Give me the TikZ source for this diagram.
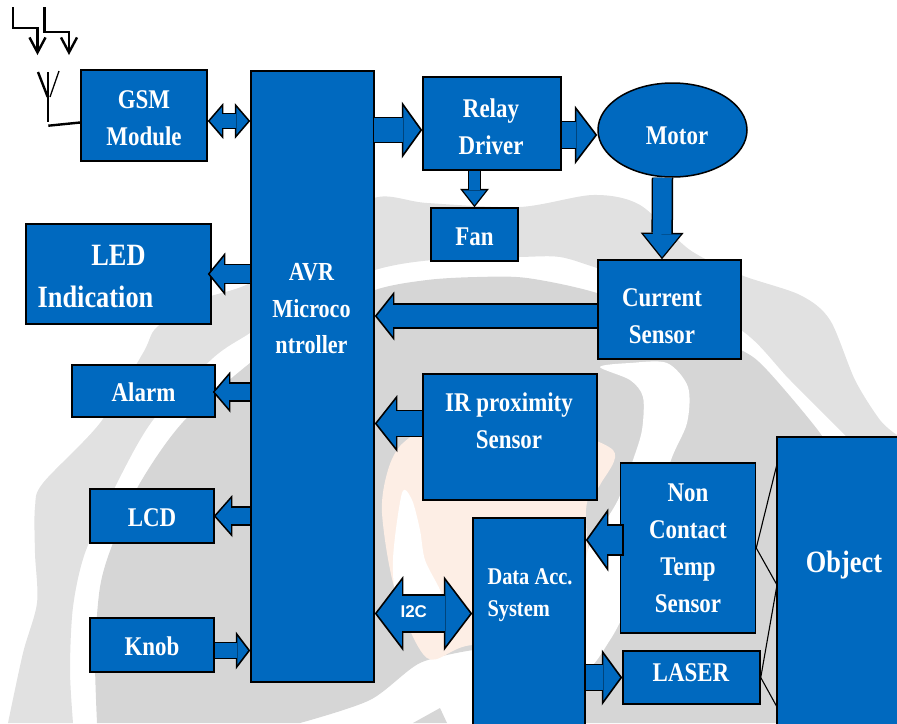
\documentclass[tikz,border=0pt]{standalone}
\usepackage{fontspec}
\setmainfont{Liberation Serif}[FakeStretch=0.85]
\newfontfamily\busfont{Liberation Sans}
\usetikzlibrary{positioning, arrows.meta, shapes.geometric}
\definecolor{boxblue}{HTML}{0069BF}
\definecolor{ringlight}{HTML}{E1E1E1}
\definecolor{ringdark}{HTML}{D6D6D6}
\definecolor{globepeach}{HTML}{FDEEE5}

\begin{document}
\begin{tikzpicture}[
  x=1pt,
  y=-1pt,
% 1. Filled blocks
  bluebox/.style={
    draw=black,
    fill=boxblue,
    line width=1.5pt,
    inner sep=0pt,
    text=white,
    align=center,
    font=\bfseries\fontsize{27}{37}\selectfont
  },
  boxtext/.style={
    text=white,
    inner sep=0pt,
    align=center,
    font=\bfseries\fontsize{27}{37}\selectfont
  },
  oneline/.style={text height=21.5pt, text depth=0pt},
% 2. Block arrows: shaft width, head width, head length (numbers, in pt)
  blocksizes/.style n args={3}{
    /utils/exec={
      \pgfmathsetmacro\outerw{#2+3}
      \pgfmathsetmacro\outerl{#3+2.5}
      \pgfmathsetmacro\innerw{(#2+3)*(#3-1.2)/(#3+2.5)}
      \pgfmathsetmacro\innerl{#3-1.2}
      \pgfmathsetmacro\outershaft{#1+1.5}
      \pgfmathsetmacro\innershaft{#1-1.5}
    }
  },
  blockarrow/.style n args={3}{
    blocksizes={#1}{#2}{#3},
    preaction={
      draw=black,
      shorten >=0pt,
      shorten <=0pt,
      line width=\outershaft pt,
      -{Triangle[width=\outerw pt, length=\outerl pt, line width=0pt]}
    },
    draw=boxblue,
    line width=\innershaft pt,
    shorten >=2.2pt,
    -{Triangle[width=\innerw pt, length=\innerl pt, line width=0pt]}
  },
  blockboth/.style n args={3}{
    blocksizes={#1}{#2}{#3},
    preaction={
      draw=black,
      shorten >=0pt,
      shorten <=0pt,
      line width=\outershaft pt,
      {Triangle[width=\outerw pt, length=\outerl pt, line width=0pt]}-{Triangle[width=\outerw pt, length=\outerl pt, line width=0pt]}
    },
    draw=boxblue,
    line width=\innershaft pt,
    shorten >=2.2pt,
    shorten <=2.2pt,
    {Triangle[width=\innerw pt, length=\innerl pt, line width=0pt]}-{Triangle[width=\innerw pt, length=\innerl pt, line width=0pt]}
  },
% 3. Tail that stands on top of a block keeps its black end
  closedtail/.style={shorten <=1.5pt},
  signal/.style={
    draw=black,
    line width=2.4pt,
    -{Straight Barb[length=15pt, width=16pt, line width=2.4pt]}
  },
  wire/.style={draw=black, line width=2.4pt},
  beam/.style={draw=black, line width=1.1pt}
]

  \useasboundingbox (0,0) rectangle (897,723);
  \clip (0,0) rectangle (897,723);

  % Watermark behind the blocks
  \fill[ringlight] plot[smooth] coordinates {(8,723) (23,653) (37,603) (35,553) (35,507) (43,483) (100,423) (143,353) (157,327) (200,300) (250,283) (310,240) (374,198) (427,203) (520,207) (593,195) (640,205) (690,250) (741,275) (800,295) (830,320) (855,380) (880,420) (897,435)}
    -- (897,470) -- plot[smooth] coordinates {(850,440) (790,380) (741,330) (650,285) (597,268) (560,257) (520,257) (433,260) (375,270) (300,300) (250,333) (213,358) (153,420) (115,487) (85,553) (73,607) (70,670) (73,723)} -- cycle;
  \fill[ringdark] plot[smooth] coordinates {(97,723) (95,653) (100,587) (113,543) (140,483) (183,422) (250,363) (310,320) (375,290) (427,280) (477,277) (527,278) (597,293) (680,325) (741,350) (767,370) (820,433) (840,470)}
    -- (897,470) -- (897,723) -- (586,723) -- (586,650) -- plot[smooth] coordinates {(473,650) (420,663) (370,700) (300,723)} -- cycle;
  \fill[ringdark] (413,723) -- (440,708) -- (447,723) -- cycle;
  \fill[globepeach] plot[smooth cycle] coordinates {(382,513) (388,470) (403,443) (440,425) (540,425) (613,450) (600,485) (586,510) (586,650) (473,645) (427,658) (395,590)};
  \fill[white] plot[smooth cycle] coordinates {(402,493) (412,500) (420,530) (425,560) (440,590) (445,610) (400,600) (393,560)};
  \fill[white] plot[smooth cycle] coordinates {(600,367) (630,380) (643,397) (642,430) (633,460) (618,500) (600,530) (586,560) (586,665) (610,640) (630,600) (650,540) (670,463) (687,423) (688,387) (667,363) (630,363)};

  % Left column
  \node[bluebox, minimum width=126pt, minimum height=91pt] (gsm) at (144,115.5) {};
  \node[bluebox, minimum width=185pt, minimum height=100pt] (led) at (118.5,274) {};
  \node[bluebox, oneline, minimum width=143pt, minimum height=52pt] (alarm) at (143.5,391) {Alarm};
  \node[bluebox, oneline, minimum width=124pt, minimum height=54pt] (lcd) at (152,516) {LCD};
  \node[bluebox, oneline, minimum width=124pt, minimum height=54pt] (knob) at (152,645) {Knob};

  % Controller
  \node[bluebox, minimum width=123pt, minimum height=611pt] (avr) at (312.5,376.5) {};

  % Right side
  \node[bluebox, minimum width=138pt, minimum height=93pt] (relay) at (492,123.5) {};
  \node[bluebox, ellipse, minimum width=149pt, minimum height=94pt] (motor) at (672.5,130) {};
  \node[bluebox, oneline, minimum width=87pt, minimum height=53pt] (fan) at (474.5,234.5) {Fan};
  \node[bluebox, minimum width=143pt, minimum height=99pt] (current) at (669.5,309.5) {};
  \node[bluebox, minimum width=174pt, minimum height=126pt] (ir) at (510,437) {};
  \node[bluebox, minimum width=112pt, minimum height=242pt] (daq) at (529,639) {};
  \node[bluebox, minimum width=135pt, minimum height=170pt] (temp) at (688,548) {Non\\Contact\\Temp\\Sensor};
  \node[bluebox, minimum width=137pt, minimum height=53pt] (laser) at (691.5,677.5) {};
  \node[bluebox, minimum width=166pt, minimum height=323pt] (object) at (860,598.5) {};

  % Texts that sit off the block centres
  \node[boxtext] (gsmtext) at (144,118) {GSM\\Module};
  \node[boxtext] (relaytext) at (491,126.5) {Relay\\Driver};
  \node[boxtext, font=\bfseries\fontsize{31}{42}\selectfont] (ledtext) at (95.5,276) {\hspace*{46pt}LED\\Indication};
  \node[boxtext, font=\bfseries\fontsize{26}{36.5}\selectfont] (avrtext) at (311.5,309) {AVR\\Microco\\ntroller};
  \node[boxtext] (motortext) at (677,136) {Motor};
  \node[boxtext] (currenttext) at (662,316) {Current\\Sensor};
  \node[boxtext] (irtext) at (509,421) {IR proximity\\Sensor};
  \node[boxtext, align=left, font=\bfseries\fontsize{24}{32}\selectfont] (daqtext) at (530,595) {Data Acc.\\System};
  \node[boxtext] (lasertext) at (691,673) {LASER};
  \node[boxtext, font=\bfseries\fontsize{31}{37}\selectfont] (objecttext) at (844,565) {Object};

  % Antenna and incoming signal
  \coordinate (sig1) at (12.7,7);
  \coordinate (sig1end) at (37.5,55);
  \coordinate (sig2) at (44.3,7);
  \coordinate (sig2end) at (69,55);
  \coordinate (anttop) at (47.7,72);
  \coordinate (antfoot) at (47.7,122);
  \coordinate (antleft) at (38,72);
  \coordinate (antright) at (59,71);
  \coordinate (antmid) at (47.7,97);
  \coordinate (antrun) at (48.3,125.7);
  \draw[signal] (sig1) |- (37.5,28) -- (sig1end);
  \draw[signal] (sig2) |- (69,32) -- (sig2end);
  \draw[wire] (anttop) -- (antfoot);
  \draw[wire] (antleft) -- (antmid);
  \draw[wire, line width=1.3pt] (antright) -- (50,97);
  \draw[wire] (antrun) -- ([yshift=-7pt]gsm.west);

  % Block arrows
  \draw[blockboth={15}{33}{13}] ([yshift=-5.5pt]gsm.east) -- ([yshift=-5.5pt]gsm.east -| avr.west);
  \draw[blockarrow={25}{54}{18}, closedtail] ([xshift=-2pt,yshift=-6.5pt]avr.east |- relay.west) -- ([yshift=-6.5pt]relay.west);
  \draw[blockarrow={27}{56}{20}] ([yshift=-11.5pt]relay.east) -- ([yshift=-5pt]motor.west);
  \draw[blockarrow={12}{26}{16}] (fan.north |- relay.south) -- (fan.north);
  \draw[blockarrow={20}{40}{24}] ([xshift=-10pt]motor.south) -- ([xshift=-7.5pt]current.north);
  \draw[blockarrow={24}{46}{17}] ([yshift=-6.5pt]current.west) -- ([yshift=-6.5pt]current.west -| avr.east);
  \draw[blockarrow={19}{40}{15}] (led.east -| avr.west) -- ([xshift=-4pt]led.east);
  \draw[blockarrow={18}{38}{15}] ([yshift=-1pt]alarm.east -| avr.west) -- ([xshift=-3pt,yshift=-1pt]alarm.east);
  \draw[blockarrow={26}{54}{20}] ([yshift=13.5pt]ir.west) -- ([yshift=13.5pt]ir.west -| avr.east);
  \draw[blockarrow={18}{39}{16}] (lcd.east -| avr.west) -- ([xshift=-1pt]lcd.east);
  \draw[blockarrow={16}{35}{12}] ([yshift=-5.5pt]knob.east) -- ([yshift=-5.5pt]knob.east -| avr.west);
  \draw[blockboth={37}{72}{26}] ([yshift=-237pt]avr.east) -- ([yshift=-237pt]avr.east -| daq.west)
    node[pos=0.4, yshift=2pt, text=white, font=\busfont\bfseries\fontsize{17}{17}\selectfont] (bustext) {I2C};
  \draw[blockarrow={30}{60}{20}, closedtail] ([xshift=4pt,yshift=8pt]temp.west) -- ([yshift=8pt]temp.west -| daq.east);
  \draw[blockarrow={26}{53}{18}] (daq.east |- laser.west) -- (laser.west);

  % Beams to and from the object
  \coordinate (objA) at (777,464);
  \coordinate (objB) at (777,585);
  \coordinate (objC) at (777,707);
  \draw[beam] (temp.east) -- (objA);
  \draw[beam] (temp.east) -- (objB);
  \draw[beam] (laser.east) -- (objB);
  \draw[beam] (laser.east) -- (objC);

\end{tikzpicture}
\end{document}
